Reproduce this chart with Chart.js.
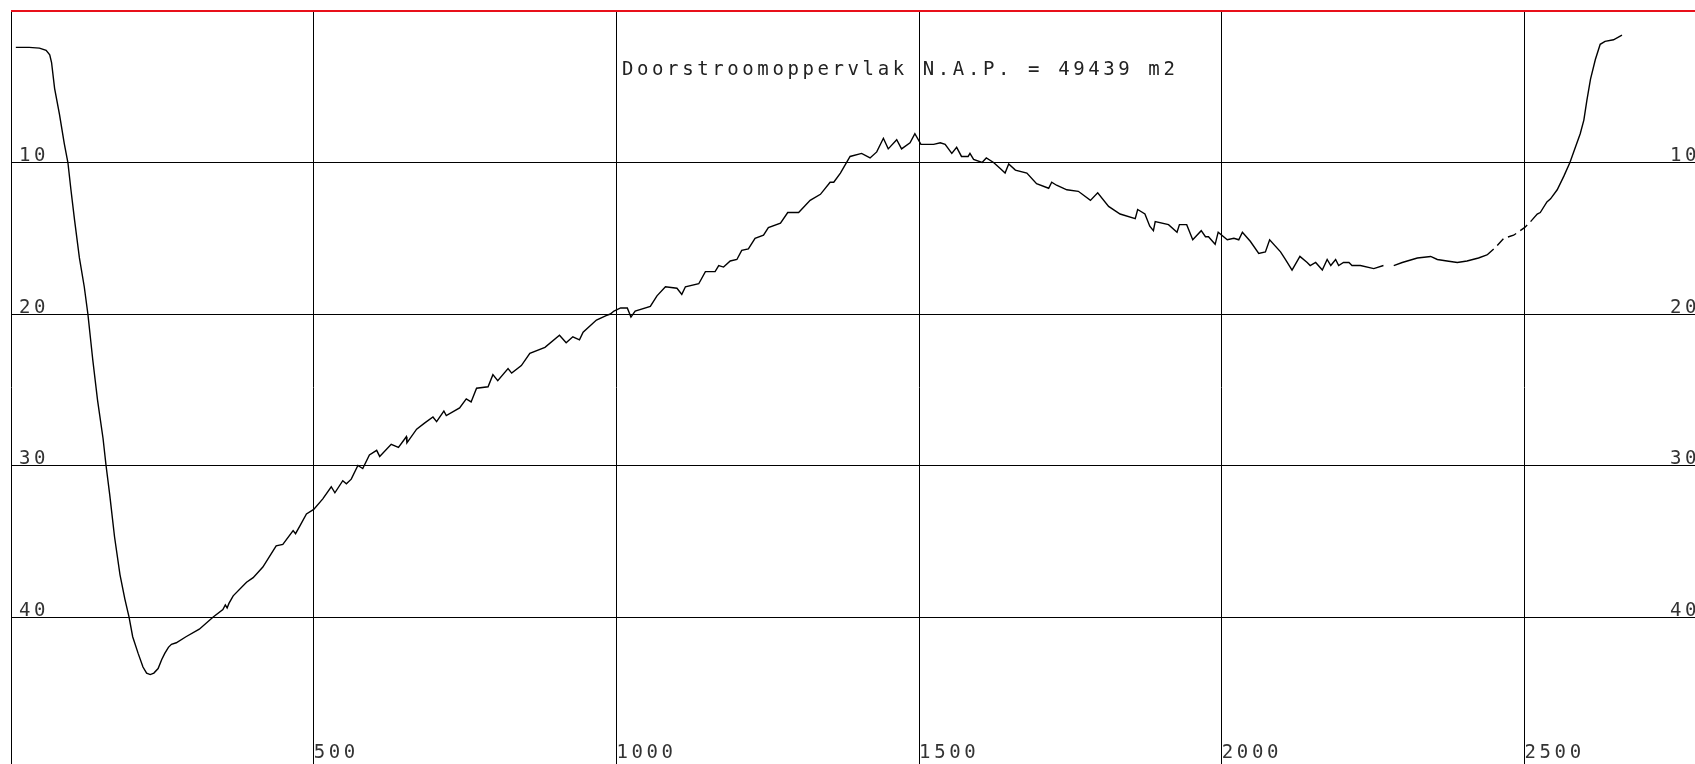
<!DOCTYPE html>
<html>
<head>
<meta charset="utf-8">
<title>Doorstroomoppervlak</title>
<script src="https://cdn.jsdelivr.net/npm/chart.js@4.4.1/dist/chart.umd.min.js"></script>
<style>
  html, body { margin: 0; padding: 0; background: #fff; overflow: hidden; }
  #wrap { width: 1695px; height: 764px; }
</style>
</head>
<body>
<div id="wrap"><canvas id="profiel"></canvas></div>
<script>
const titleText = 'Doorstroomoppervlak N.A.P. = 49439 m2';

// tick positions (m along the section, m below N.A.P.)
const xTicks = [0, 500, 1000, 1500, 2000, 2500];
const yTicks = [0, 10, 20, 30, 40];

// measured profile: distance (m) and depth (m)
const distance = [
  8, 30, 47, 58, 64, 67, 72, 80, 88, 94,
  99, 105, 113, 121, 127, 135, 143, 152, 157, 163,
  171, 180, 188, 195, 201, 210, 218, 224, 230, 236,
  243, 249, 254, 260, 265, 273, 289, 311, 334, 350,
  354, 357, 360, 367, 389, 400, 416, 438, 449, 466,
  470, 477, 488, 500, 515, 529, 535, 548, 554, 562,
  573, 581, 592, 604, 609, 628, 640, 653, 654, 670,
  683, 697, 703, 715, 719, 741, 752, 760, 769, 788,
  796, 804, 821, 827, 843, 857, 882, 906, 917, 928,
  939, 945, 967, 983, 990, 996, 1007, 1018, 1024, 1031,
  1056, 1067, 1081, 1100, 1108, 1114, 1136, 1147, 1163, 1169,
  1177, 1188, 1199, 1207, 1218, 1229, 1243, 1251, 1271, 1283,
  1301, 1320, 1337, 1353, 1359, 1370, 1386, 1405, 1419, 1430,
  1441, 1449, 1463, 1471, 1485, 1493, 1503, 1524, 1535, 1543,
  1554, 1562, 1570, 1581, 1584, 1590, 1604, 1611, 1623, 1634,
  1642, 1648, 1659, 1678, 1694, 1714, 1719, 1727, 1744, 1763,
  1783, 1795, 1813, 1832, 1857, 1861, 1873, 1881, 1887, 1890,
  1912, 1926, 1930, 1942, 1952, 1966, 1973, 1978, 1989, 1994,
  2009, 2020, 2028, 2034, 2047, 2061, 2072, 2079, 2097, 2105,
  2116, 2129, 2141, 2146, 2155, 2166, 2174, 2180, 2188, 2193,
  2201, 2210, 2215, 2229, 2251, 2267, 2276, 2284, 2298, 2323,
  2345, 2356, 2372, 2389, 2405, 2424, 2438, 2452, 2466, 2482,
  2500, 2510, 2521, 2526, 2537, 2543, 2554, 2565, 2575, 2584,
  2592, 2598, 2603, 2609, 2617, 2625, 2633, 2647, 2661
];
const depth = [
  2.4, 2.4, 2.45, 2.6, 2.9, 3.4, 5.1, 6.8, 8.75, 10,
  11.8, 13.8, 16.3, 18.2, 20, 23, 25.7, 28.2, 30, 31.9,
  34.7, 37.2, 38.8, 40, 41.3, 42.4, 43.3, 43.7, 43.8, 43.7,
  43.4, 42.8, 42.4, 42.0, 41.8, 41.7, 41.3, 40.8, 40.0, 39.5,
  39.2, 39.4, 39.1, 38.6, 37.7, 37.4, 36.7, 35.3, 35.2, 34.3,
  34.5, 34.0, 33.2, 32.9, 32.2, 31.4, 31.8, 31.0, 31.2, 30.9,
  30.0, 30.2, 29.3, 29.0, 29.4, 28.6, 28.8, 28.1, 28.5, 27.6,
  27.2, 26.8, 27.1, 26.4, 26.7, 26.2, 25.6, 25.8, 24.9, 24.8,
  24.0, 24.4, 23.6, 23.9, 23.4, 22.6, 22.2, 21.4, 21.9, 21.5,
  21.7, 21.2, 20.4, 20.1, 20.0, 19.8, 19.6, 19.6, 20.2, 19.8,
  19.5, 18.8, 18.2, 18.3, 18.7, 18.2, 18.0, 17.2, 17.2, 16.8,
  16.9, 16.5, 16.4, 15.8, 15.7, 15.0, 14.8, 14.3, 14.0, 13.3,
  13.3, 12.5, 12.1, 11.3, 11.3, 10.7, 9.6, 9.4, 9.7, 9.3,
  8.4, 9.1, 8.5, 9.1, 8.7, 8.1, 8.8, 8.8, 8.7, 8.8,
  9.4, 9.0, 9.6, 9.6, 9.4, 9.8, 10.0, 9.7, 10.0, 10.4,
  10.7, 10.1, 10.5, 10.7, 11.4, 11.7, 11.3, 11.5, 11.8, 11.9,
  12.5, 12.0, 12.9, 13.4, 13.7, 13.1, 13.4, 14.2, 14.5, 13.9,
  14.1, 14.6, 14.1, 14.1, 15.1, 14.5, 14.9, 14.9, 15.4, 14.6,
  15.1, 15.0, 15.1, 14.6, 15.2, 16.0, 15.9, 15.1, 15.9, 16.4,
  17.1, 16.2, 16.6, 16.8, 16.6, 17.1, 16.4, 16.8, 16.4, 16.8,
  16.6, 16.6, 16.8, 16.8, 17.0, 16.8, null, 16.8, 16.6, 16.3,
  16.2, 16.4, 16.5, 16.6, 16.5, 16.3, 16.1, 15.6, 15.0, 14.8,
  14.3, 13.9, 13.4, 13.3, 12.6, 12.4, 11.8, 10.9, 10.0, 9.0,
  8.1, 7.2, 5.9, 4.5, 3.2, 2.2, 2.0, 1.9, 1.6
];

// part of the profile drawn dashed (poor soundings)
const dashedFrom = 2430;
const dashedTo = 2510;

const plotFont = { family: '"DejaVu Sans Mono", monospace', size: 19 };
const spacing = '3.6px';

// plotter style text is widely spaced
const letterSpacing = {
  id: 'letterSpacing',
  beforeLayout(chart) { chart.ctx.letterSpacing = spacing; },
  beforeDraw(chart) { chart.ctx.letterSpacing = spacing; }
};

const insideTitle = {
  id: 'insideTitle',
  afterDraw(chart) {
    const ctx = chart.ctx;
    ctx.save();
    ctx.font = '19px "DejaVu Sans Mono", monospace';
    ctx.letterSpacing = spacing;
    ctx.fillStyle = '#222';
    ctx.textAlign = 'left';
    ctx.textBaseline = 'alphabetic';
    ctx.fillText(titleText, 622, 75);
    ctx.restore();
  }
};

const noBox = (scale) => {
  if (scale.isHorizontal()) scale.height = 0; else scale.width = 0;
  scale.paddingTop = scale.paddingBottom = 0;
  scale.paddingLeft = scale.paddingRight = 0;
};

// empty label (not null) so the grid line at 0 is still drawn
const hideZero = (v) => (v === 0 ? '' : String(v));

new Chart(document.getElementById('profiel'), {
  type: 'line',
  data: {
    datasets: [{
      data: distance.map((x, i) => ({ x: x, y: depth[i] })),
      borderColor: '#000',
      borderWidth: 1.4,
      pointRadius: 0,
      tension: 0,
      fill: false,
      spanGaps: false,
      segment: {
        borderDash: (c) => (c.p0.parsed.x >= dashedFrom && c.p1.parsed.x <= dashedTo ? [9, 5] : undefined)
      }
    }]
  },
  options: {
    responsive: true,
    maintainAspectRatio: false,
    animation: false,
    devicePixelRatio: 1,
    layout: { padding: { left: 11, top: 11, right: 0, bottom: 0 } },
    plugins: { legend: { display: false }, tooltip: { enabled: false } },
    scales: {
      x: {
        type: 'linear',
        min: 0,
        max: 2781.6,
        afterBuildTicks: (s) => { s.ticks = xTicks.map((v) => ({ value: v })); },
        afterFit: noBox,
        grid: { color: '#000', lineWidth: 1, drawTicks: false },
        border: { display: false },
        ticks: {
          mirror: true, align: 'start', padding: 0, maxRotation: 0, autoSkip: false,
          font: plotFont, color: '#333', callback: hideZero
        }
      },
      y: {
        type: 'linear',
        position: 'left',
        reverse: true,
        min: 0,
        max: 49.7,
        afterBuildTicks: (s) => { s.ticks = yTicks.map((v) => ({ value: v })); },
        afterFit: noBox,
        grid: {
          color: (c) => (c.tick && c.tick.value === 0 ? '#e8101a' : '#000'),
          lineWidth: (c) => (c.tick && c.tick.value === 0 ? 2 : 1),
          drawTicks: false
        },
        border: { display: false },
        ticks: {
          mirror: true, padding: 8, labelOffset: -6, autoSkip: false,
          font: plotFont, color: '#333', callback: hideZero
        }
      },
      y2: {
        type: 'linear',
        position: 'right',
        reverse: true,
        min: 0,
        max: 49.7,
        afterBuildTicks: (s) => { s.ticks = yTicks.map((v) => ({ value: v })); },
        afterFit: noBox,
        grid: { display: false, drawTicks: false },
        border: { display: false },
        ticks: {
          mirror: true, padding: 5, labelOffset: -6, autoSkip: false,
          font: plotFont, color: '#333', callback: hideZero
        }
      }
    }
  },
  plugins: [letterSpacing, insideTitle]
});
</script>
</body>
</html>
